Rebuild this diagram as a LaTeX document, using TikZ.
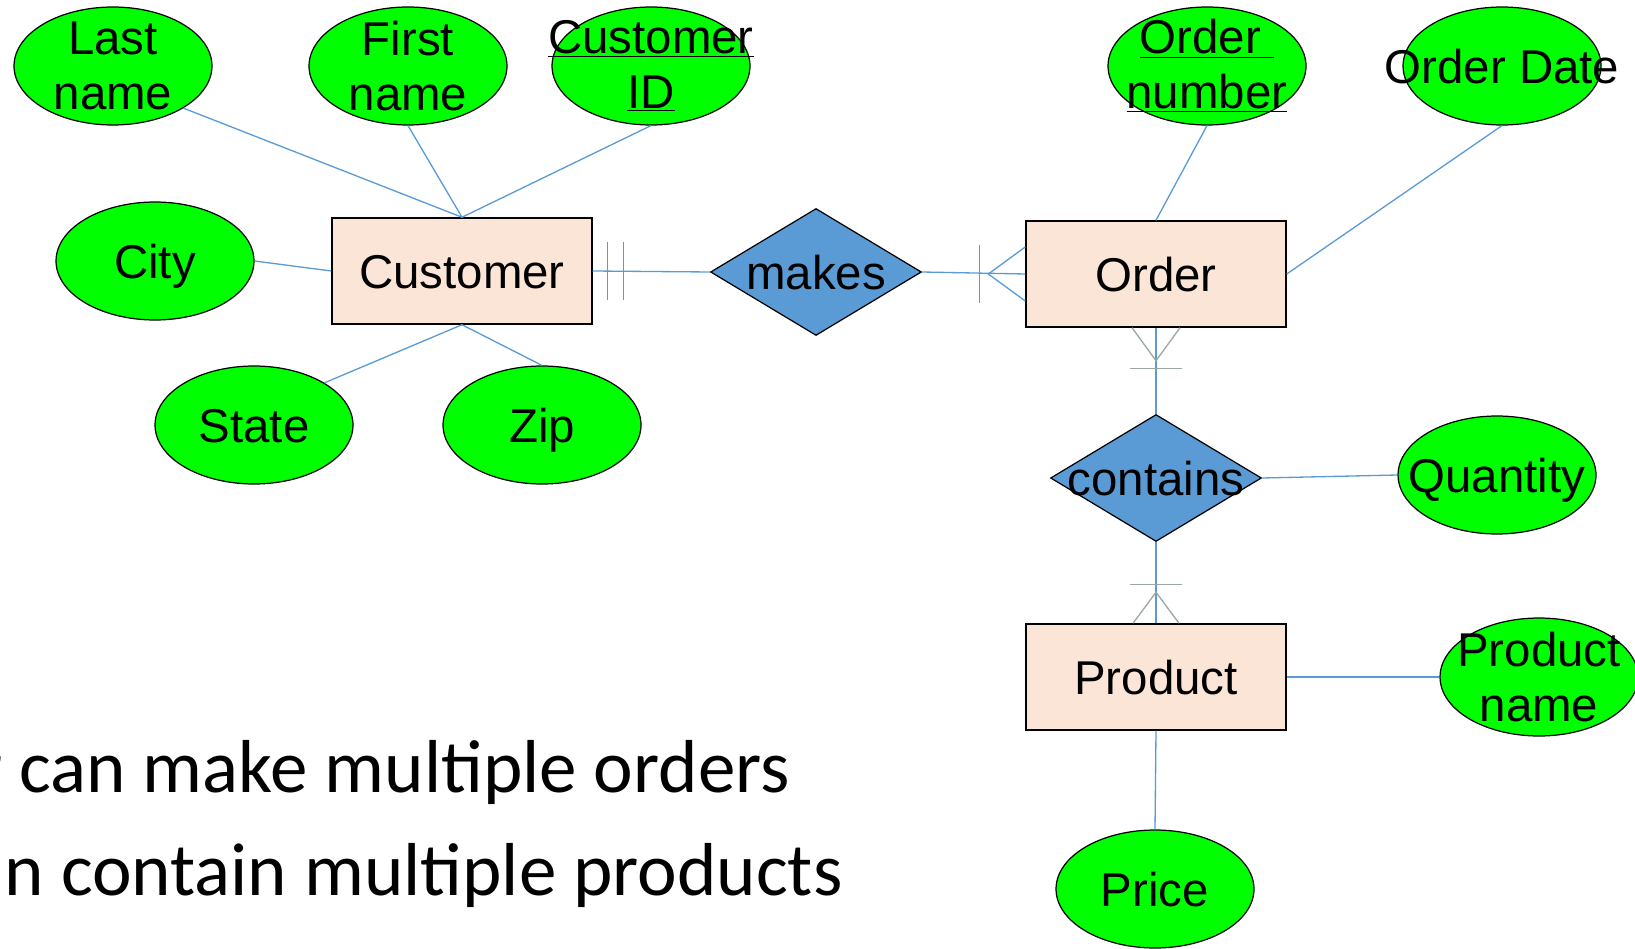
\documentclass[tikz,border=0pt]{standalone}
\usepackage{fontspec}
\setmainfont{Liberation Sans}
\newfontfamily\notefont{Carlito}
\usetikzlibrary{shapes.geometric,calc}

\definecolor{attrgreen}{HTML}{00FF00}
\definecolor{entfill}{HTML}{FBE5D6}
\definecolor{relblue}{HTML}{5B9BD5}
\definecolor{footgray}{HTML}{9AA9A1}

\tikzset{
  entity/.style={draw, line width=0.85pt, fill=entfill, minimum width=5.2cm,
    minimum height=2.12cm, font=\fontsize{27}{31}\selectfont,
    text height=21.6pt, text depth=1.6pt},
  attr/.style={draw, ellipse, line width=0.7pt, fill=attrgreen,
    minimum width=3.96cm, minimum height=2.36cm, inner sep=0pt},
  rel/.style={draw, diamond, line width=0.7pt, fill=relblue,
    minimum width=4.22cm, minimum height=2.54cm, inner sep=0pt},
  link/.style={draw=relblue, line width=0.75pt},
  foot/.style={draw=footgray, line width=0.75pt},
  every label/.style={font=\fontsize{27}{31}\selectfont, align=center, inner sep=0pt},
  oneline/.style={text height=21.6pt, text depth=1.6pt},
  note/.style={anchor=base east, inner sep=0pt, font=\notefont\fontsize{42.7}{50}\selectfont}
}

\begin{document}
\begin{tikzpicture}[x=0.02cm, y=-0.02cm]
  \path[use as bounding box, clip] (0,0) rectangle (1635,949);

  % entities and relationships
  \node[entity] (customer) at (462,271) {Customer};
  \node[entity] (order) at (1156,274) {Order};
  \node[entity] (product) at (1156,677) {Product};
  \node[rel, label={[oneline]center:makes}] (makes) at (816,272) {};
  \node[rel, label={[oneline]center:contains}] (contains) at (1156,478) {};

  % attributes
  \node[attr, label={center:{Last\\name}}] (lname) at (113,66) {};
  \node[attr, label={center:{First\\name}}] (fname) at (408,66) {};
  \node[attr, label={center:{\underline{Customer}\\\underline{ID}}}] (custid) at (651,66) {};
  \node[attr, label={center:{\underline{Order\ }\\\underline{number}}}] (ordnum) at (1207,66) {};
  \node[attr, label={[oneline]center:Order Date}] (orddate) at (1502,66) {};
  \node[attr, label={[oneline]center:City}] (city) at (155,261) {};
  \node[attr, label={[oneline]center:State}] (state) at (254,425) {};
  \node[attr, label={[oneline]center:Zip}] (zip) at (542,425) {};
  \node[attr, label={[oneline]center:Quantity}] (qty) at (1497,475) {};
  \node[attr, label={center:{Product\\name}}] (pname) at (1539,677) {};
  \node[attr, label={[oneline]center:Price}] (price) at (1155,889) {};

  \draw[link] (lname.south east) -- (customer.north);
  \draw[link] (fname.south) -- (customer.north);
  \draw[link] (custid.south) -- (customer.north);
  \draw[link] (city.east) -- (customer.west);
  \draw[link] (state.north east) -- (customer.south);
  \draw[link] (zip.north) -- (customer.south);
  \draw[link] (ordnum.south) -- (order.north);
  \draw[link] (orddate.south) -- (order.east);
  \draw[link] (contains.east) -- (qty.west);
  \draw[link] (product.east) -- (pname.west);
  \draw[link] (product.south) -- (price.north);

  % customer makes order
  \draw[link] (customer.east) -- (makes.west);
  \draw[link] (makes.east) -- (order.west);
  \draw[link] ($(customer.east)+(15,-29)$) -- ($(customer.east)+(15,29)$);
  \draw[link] ($(customer.east)+(31,-29)$) -- ($(customer.east)+(31,29)$);
  \draw[link] ($(order.west)+(-46,-29)$) -- ($(order.west)+(-46,29)$);
  \draw[link] ($(order.west)+(0,-27)$) -- ($(order.west)+(-37,0)$) -- ($(order.west)+(0,27)$);

  % order contains product
  \draw[link] (order.south) -- (contains.north);
  \draw[link] (contains.south) -- (product.north);
  \draw[foot] ($(order.south)+(-24,0)$) -- ($(order.south)+(0,33)$) -- ($(order.south)+(24,0)$);
  \draw[foot] ($(order.south)+(-26,41)$) -- ($(order.south)+(26,41)$);
  \draw[foot] ($(product.north)+(-23,0)$) -- ($(product.north)+(0,-31)$) -- ($(product.north)+(23,0)$);
  \draw[foot] ($(product.north)+(-26,-39)$) -- ($(product.north)+(26,-39)$);

  \node[note] (note1) at (790,792) {r can make multiple orders};
  \node[note] (note2) at (843,895) {an contain multiple products};
\end{tikzpicture}
\end{document}
